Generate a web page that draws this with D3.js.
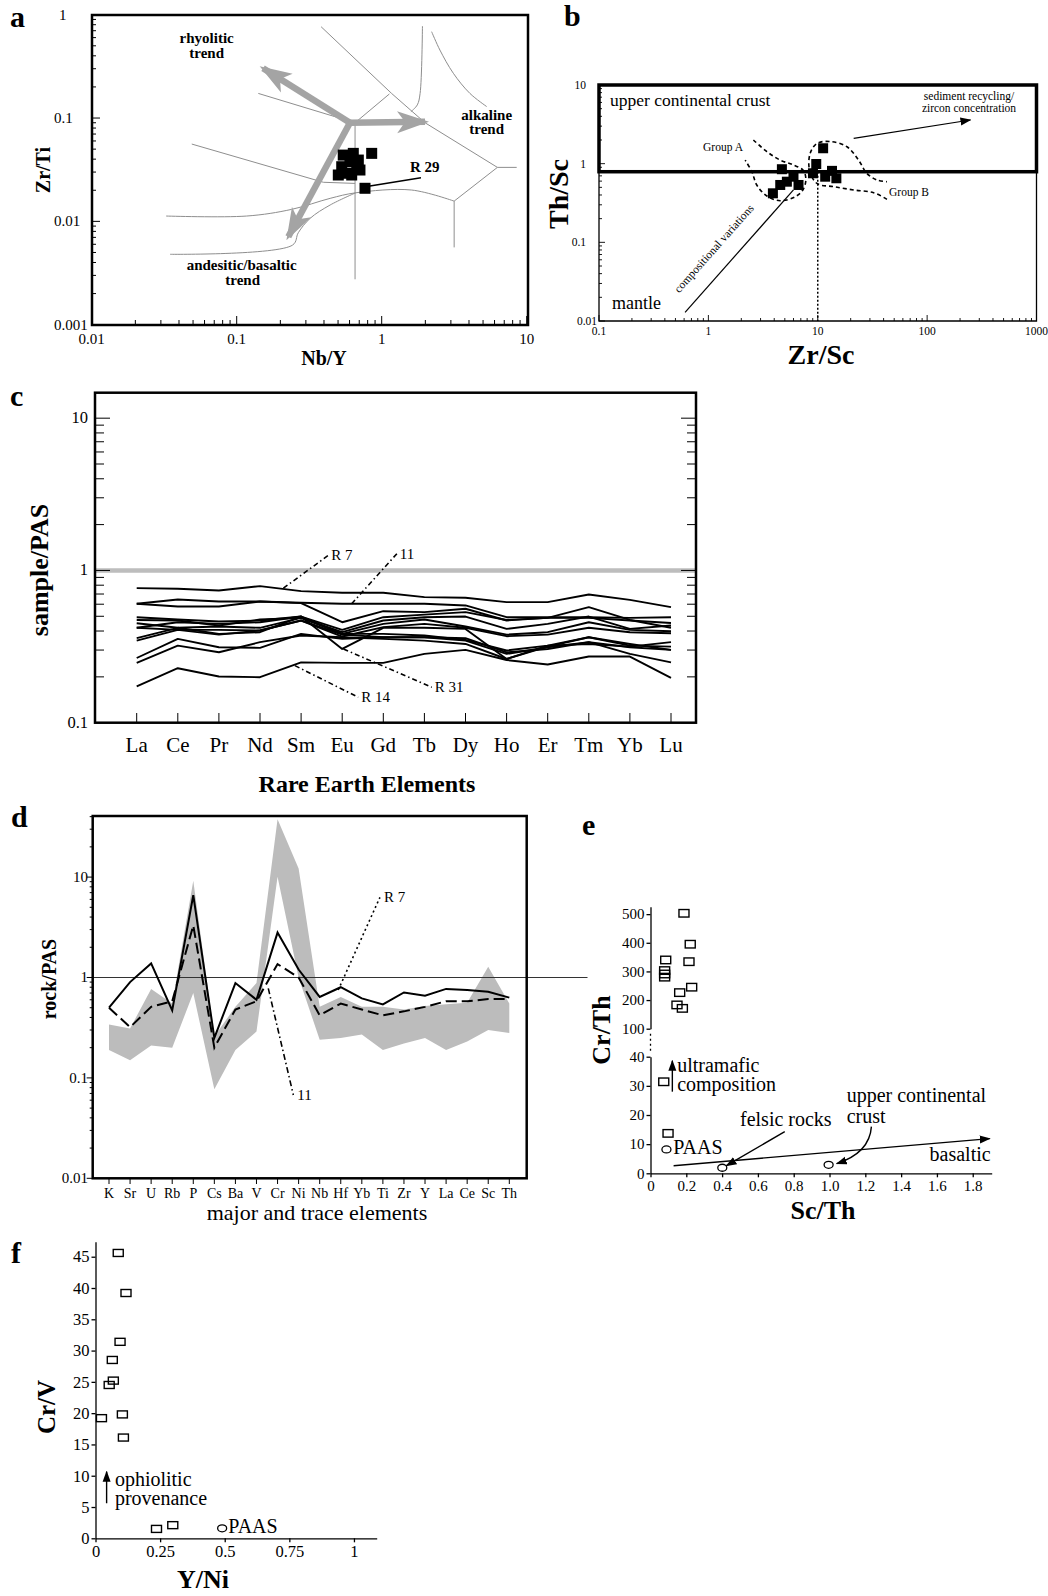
<!DOCTYPE html>
<html>
<head>
<meta charset="utf-8">
<script src="https://cdn.jsdelivr.net/npm/d3@7"></script>
<style>
  body { margin: 0; background: #fff; }
  svg { display: block; font-family: "Liberation Serif", "Times New Roman", serif; }
</style>
</head>
<body>
<svg id="fig" width="1048" height="1596"></svg>
<script>
// ---------- data ----------
// a: Zr/Ti vs Nb/Y
const aNbY  = [0.853, 0.543, 0.637, 0.604, 0.690, 0.530, 0.673, 0.574, 0.502, 0.621, 0.708, 0.767];
const aZrTi = [0.0455, 0.0438, 0.0455, 0.0378, 0.0392, 0.0338, 0.0338, 0.0292, 0.0281, 0.0281, 0.0314, 0.0209];
const aFieldLines = [
  [[0.382, 0.765], [1.17, 0.173], [1.99, 0.090], [6.28, 0.0333], [8.53, 0.0333]],
  [[6.28, 0.0333], [3.16, 0.0157], [3.16, 0.0056]],
  [[0.141, 0.173], [0.655, 0.090], [1.13, 0.171]],
  [[0.655, 0.090], [0.655, 0.00275]],
  [[0.049, 0.056], [0.396, 0.0239], [0.655, 0.0233]],
  [[0.0326, 0.01126], [0.117, 0.01126], [0.239, 0.01306], [0.441, 0.0167], [0.662, 0.0189], [1.61, 0.0201], [3.16, 0.0157]],
  [[0.0347, 0.0048], [0.243, 0.0059], [0.266, 0.00777], [0.321, 0.0107], [0.441, 0.0144], [0.662, 0.0189]],
  [[1.91, 0.777], [1.84, 0.173], [1.76, 0.134], [1.59, 0.115]],
  [[2.21, 0.685], [2.52, 0.455], [3.12, 0.271], [4.06, 0.173], [5.30, 0.129]]
];
const aFieldCurved = [false, false, false, false, false, true, true, true, true];
const aTrendStart = [0.604, 0.090];
const aTrendEnds = [[0.152, 0.303], [1.99, 0.092], [0.227, 0.0071]];
const aR29Leader = [[0.830, 0.022], [1.866, 0.0264]];

// b: Th/Sc vs Zr/Sc
const bZrSc = [11.2, 9.69, 4.70, 13.5, 9.04, 14.8, 11.7, 6.0, 4.54, 6.67, 3.89, 5.22];
const bThSc = [1.57, 0.99, 0.85, 0.81, 0.755, 0.652, 0.683, 0.683, 0.536, 0.536, 0.42, 0.59];
const bUccLimit = 0.79;
const bGroupA = [[2.58, 2.0], [3.43, 1.42], [4.54, 1.11], [6.01, 0.96], [7.41, 0.815], [7.78, 0.62], [7.31, 0.463],
  [6.22, 0.38], [4.54, 0.338], [3.43, 0.388], [2.77, 0.535], [2.50, 0.79], [2.17, 1.11]];
const bGroupB = [[42.9, 0.352], [32.4, 0.428], [21.3, 0.463], [14.0, 0.51], [9.84, 0.56], [8.41, 0.83], [8.53, 1.36],
  [9.84, 1.81], [13.0, 1.91], [18.5, 1.64], [23.6, 1.11], [28.2, 0.75], [34.8, 0.62], [42.9, 0.59]];
const bTrendLine = [[0.612, 0.0129], [6.0, 0.463]];
const bSedimentArrow = [[21.3, 2.1], [249, 3.59]];

// c: REE / PAAS
const reeNames = ["La", "Ce", "Pr", "Nd", "Sm", "Eu", "Gd", "Tb", "Dy", "Ho", "Er", "Tm", "Yb", "Lu"];
const reeR7  = [0.765, 0.758, 0.739, 0.789, 0.731, 0.713, 0.713, 0.668, 0.661, 0.619, 0.619, 0.695, 0.641, 0.574];
const ree11  = [0.604, 0.645, 0.625, 0.625, 0.613, 0.604, 0.604, 0.604, 0.589, 0.493, 0.493, 0.493, 0.488, 0.493];
const reeR31 = [0.420, 0.457, 0.446, 0.457, 0.498, 0.305, 0.420, 0.420, 0.413, 0.262, 0.316, 0.364, 0.329, 0.301];
const reeR14 = [0.173, 0.228, 0.201, 0.199, 0.249, 0.247, 0.247, 0.283, 0.301, 0.258, 0.241, 0.272, 0.272, 0.197];
const reeOthers = [
  [0.604, 0.580, 0.580, 0.625, 0.610, 0.457, 0.540, 0.532, 0.560, 0.469, 0.488, 0.574, 0.473, 0.420],
  [0.493, 0.476, 0.462, 0.469, 0.498, 0.407, 0.493, 0.513, 0.532, 0.473, 0.488, 0.488, 0.469, 0.452],
  [0.473, 0.469, 0.435, 0.476, 0.488, 0.393, 0.469, 0.493, 0.498, 0.413, 0.446, 0.498, 0.413, 0.435],
  [0.450, 0.420, 0.428, 0.420, 0.488, 0.383, 0.446, 0.476, 0.428, 0.379, 0.393, 0.457, 0.407, 0.399],
  [0.420, 0.407, 0.407, 0.403, 0.469, 0.368, 0.424, 0.446, 0.420, 0.370, 0.379, 0.420, 0.393, 0.387],
  [0.359, 0.420, 0.383, 0.393, 0.498, 0.383, 0.383, 0.374, 0.350, 0.298, 0.321, 0.364, 0.321, 0.316],
  [0.346, 0.407, 0.379, 0.403, 0.469, 0.379, 0.364, 0.364, 0.359, 0.290, 0.305, 0.338, 0.283, 0.249],
  [0.266, 0.355, 0.313, 0.310, 0.383, 0.355, 0.364, 0.364, 0.346, 0.283, 0.313, 0.338, 0.313, 0.301],
  [0.247, 0.321, 0.290, 0.338, 0.374, 0.364, 0.355, 0.346, 0.329, 0.262, 0.321, 0.329, 0.316, 0.338]
];
// pointer labels: [index, value] pairs
const cLabels = [
  { text: "R 7",  from: [3.57, 0.765], to: [4.66, 1.255] },
  { text: "11",   from: [5.23, 0.604], to: [6.33, 1.288] },
  { text: "R 31", from: [5.03, 0.305], to: [7.18, 0.171] },
  { text: "R 14", from: [3.85, 0.237], to: [5.39, 0.147] }
];

// d: spider diagram rock/PAAS
const spiderNames = ["K", "Sr", "U", "Rb", "P", "Cs", "Ba", "V", "Cr", "Ni", "Nb", "Hf", "Yb", "Ti", "Zr", "Y", "La", "Ce", "Sc", "Th"];
const spiderR7 = [0.50, 0.90, 1.38, 0.47, 6.6, 0.25, 0.88, 0.60, 2.8, 1.2, 0.64, 0.80, 0.62, 0.54, 0.71, 0.66, 0.77, 0.75, 0.72, 0.63];
const spider11 = [0.50, 0.32, 0.51, 0.58, 3.3, 0.20, 0.48, 0.58, 1.36, 1.0, 0.42, 0.55, 0.48, 0.42, 0.46, 0.51, 0.58, 0.58, 0.61, 0.61];
const bandUpper = [0.34, 0.31, 0.77, 0.55, 9.2, 0.26, 0.51, 0.88, 37.6, 12.2, 0.51, 0.64, 0.51, 0.51, 0.48, 0.52, 0.54, 0.56, 1.28, 0.55];
const bandLower = [0.19, 0.15, 0.21, 0.20, 0.70, 0.077, 0.19, 0.29, 10.1, 1.0, 0.24, 0.25, 0.27, 0.19, 0.22, 0.25, 0.19, 0.23, 0.30, 0.28];
const dLabels = [
  { text: "R 7", from: [10.88, 0.751], to: [12.86, 6.29], dash: "2,3" },
  { text: "11",  from: [7.56, 0.78],  to: [8.75, 0.0676], dash: "6,3,1.5,3" }
];

// e: Cr/Th vs Sc/Th
const eScTh = [0.187, 0.222, 0.085, 0.215, 0.079, 0.079, 0.079, 0.163, 0.230, 0.148, 0.178, 0.074, 0.098];
const eCrTh = [503, 395, 340, 334, 303, 291, 280, 226, 245, 183, 171, 31.4, 13.7];
const eRefs = [[0.089, 8.2], [0.401, 1.9], [0.995, 2.9]];
const eXTicks = [0, 0.2, 0.4, 0.6, 0.8, 1.0, 1.2, 1.4, 1.6, 1.8];
const eYTicksUpper = [100, 200, 300, 400, 500];
const eYTicksLower = [0, 10, 20, 30, 40];

// f: Cr/V vs Y/Ni
const fYNi = [0.088, 0.118, 0.095, 0.065, 0.069, 0.053, 0.023, 0.104, 0.108, 0.236, 0.299];
const fCrV = [45.6, 39.2, 31.4, 28.5, 25.2, 24.5, 19.2, 19.8, 16.1, 1.5, 2.1];
const fPaas = [0.490, 1.6];
const fXTicks = [0, 0.25, 0.5, 0.75, 1];
const fYTicks = [0, 5, 10, 15, 20, 25, 30, 35, 40, 45];

// ---------- helpers ----------
const svg = d3.select("#fig");
const defs = svg.append("defs");

function addMarker(id, vb, refX, w, h, path, fill) {
  defs.append("marker")
    .attr("id", id).attr("viewBox", vb).attr("refX", refX).attr("refY", 0)
    .attr("markerWidth", w).attr("markerHeight", h)
    .attr("markerUnits", "userSpaceOnUse").attr("orient", "auto")
    .append("path").attr("d", path).attr("fill", fill);
}
addMarker("greyHead", "0 -12 32 24", 28, 32, 24, "M0,-11L32,0L0,11L8,0Z", "#a4a4a4");
addMarker("blackHead", "0 -5 11 10", 10, 11, 10, "M0,-4L11,0L0,4Z", "#000");

function isMajor(v) {
  const l = Math.log10(v);
  return Math.abs(l - Math.round(l)) < 1e-9;
}
function logTicks(g, scale, axis, pos, dir, majLen, minLen) {
  scale.ticks().forEach(v => {
    const p = scale(v);
    const l = isMajor(v) ? majLen : minLen;
    if (axis === "x") {
      g.append("line").attr("x1", p).attr("x2", p).attr("y1", pos).attr("y2", pos + dir * l);
    } else {
      g.append("line").attr("x1", pos).attr("x2", pos + dir * l).attr("y1", p).attr("y2", p);
    }
  });
}
function letter(txt, x, y) {
  svg.append("text").attr("x", x).attr("y", y).attr("font-size", 30).attr("font-weight", "bold").text(txt);
}
function vTitle(g, txt, x, y, size) {
  g.append("text").attr("transform", `translate(${x},${y}) rotate(-90)`)
    .attr("text-anchor", "middle").attr("font-size", size).attr("font-weight", "bold").text(txt);
}
function styleAxis(sel, size) {
  sel.attr("font-family", "Liberation Serif, serif").attr("font-size", size);
  sel.selectAll("line, path").attr("stroke", "#000").attr("stroke-width", 1.3);
  sel.selectAll("text").attr("fill", "#000");
}

// ---------- panel a ----------
(function panelA() {
  const g = svg.append("g");
  const x = d3.scaleLog().domain([0.01, 10]).range([91.7, 526.7]);
  const y = d3.scaleLog().domain([0.001, 1]).range([324.7, 14.7]);
  const straight = d3.line().x(d => x(d[0])).y(d => y(d[1]));
  const curved = d3.line().x(d => x(d[0])).y(d => y(d[1])).curve(d3.curveCatmullRom);

  aFieldLines.forEach((pts, i) => {
    g.append("path").attr("d", (aFieldCurved[i] ? curved : straight)(pts))
      .attr("fill", "none").attr("stroke", "#8e8e8e").attr("stroke-width", 1);
  });

  aTrendEnds.forEach(end => {
    g.append("path").attr("d", straight([aTrendStart, end]))
      .attr("fill", "none").attr("stroke", "#a4a4a4").attr("stroke-width", 6.5)
      .attr("marker-end", "url(#greyHead)");
  });

  g.selectAll(".sq").data(aNbY).enter().append("rect")
    .attr("x", d => x(d) - 5.5).attr("y", (d, i) => y(aZrTi[i]) - 5.5)
    .attr("width", 11).attr("height", 11).attr("fill", "#000");

  g.append("path").attr("d", straight(aR29Leader)).attr("stroke", "#000").attr("stroke-width", 1.5);

  const bold = [["rhyolitic", 206.7, 43], ["trend", 206.7, 58], ["alkaline", 486.7, 120], ["trend", 486.7, 134],
    ["andesitic/basaltic", 241.7, 270], ["trend", 242.7, 285], ["R 29", 424.7, 172]];
  bold.forEach(t => g.append("text").attr("x", t[1]).attr("y", t[2]).attr("text-anchor", "middle")
    .attr("font-size", 15).attr("font-weight", "bold").text(t[0]));

  g.append("rect").attr("x", 92).attr("y", 15).attr("width", 436).attr("height", 310)
    .attr("fill", "none").attr("stroke", "#000").attr("stroke-width", 2.5);
  const tk = g.append("g").attr("stroke", "#000").attr("stroke-width", 1);
  logTicks(tk, y, "y", 92, 1, 8, 4);
  logTicks(tk, x, "x", 325, -1, 9, 5);

  [1, 0.1, 0.01, 0.001].forEach(v => g.append("text").attr("x", v === 1 ? 59 : 54).attr("y", y(v) + 5)
    .attr("font-size", 15).text(String(v)));
  [0.01, 0.1, 1, 10].forEach(v => g.append("text").attr("x", x(v)).attr("y", 344)
    .attr("text-anchor", "middle").attr("font-size", 15).text(String(v)));
  g.append("text").attr("x", 324).attr("y", 365).attr("text-anchor", "middle")
    .attr("font-size", 20).attr("font-weight", "bold").text("Nb/Y");
  vTitle(g, "Zr/Ti", 50, 170, 20);
  letter("a", 10, 27);
})();

// ---------- panel b ----------
(function panelB() {
  const g = svg.append("g");
  const x = d3.scaleLog().domain([0.1, 1000]).range([599, 1036.5]);
  const y = d3.scaleLog().domain([0.01, 10]).range([321, 85]);
  const line = d3.line().x(d => x(d[0])).y(d => y(d[1]));
  const smooth = d3.line().x(d => x(d[0])).y(d => y(d[1])).curve(d3.curveCatmullRom);

  // lower thin frame
  g.append("path")
    .attr("d", `M${x(0.1)},${y(bUccLimit)}V${y(0.01)}H${x(1000)}V${y(bUccLimit)}`)
    .attr("fill", "none").attr("stroke", "#000").attr("stroke-width", 1.3);
  const tk = g.append("g").attr("stroke", "#000").attr("stroke-width", 0.9);
  logTicks(tk, y, "y", x(0.1), 1, 6, 3);
  logTicks(tk, x, "x", y(0.01), -1, 6, 3);

  // dotted line at Zr/Sc = 10
  g.append("line").attr("x1", x(10)).attr("x2", x(10)).attr("y1", y(bUccLimit)).attr("y2", y(0.01))
    .attr("stroke", "#000").attr("stroke-width", 1.5).attr("stroke-dasharray", "2,2");

  // envelopes
  [bGroupA, bGroupB].forEach(pts => g.append("path").attr("d", smooth(pts))
    .attr("fill", "none").attr("stroke", "#000").attr("stroke-width", 1.6).attr("stroke-dasharray", "4,3"));

  // compositional trend
  g.append("path").attr("d", line(bTrendLine)).attr("stroke", "#000").attr("stroke-width", 1.2);
  const p0 = [x(bTrendLine[0][0]), y(bTrendLine[0][1])];
  const p1 = [x(bTrendLine[1][0]), y(bTrendLine[1][1])];
  const ang = Math.atan2(p1[1] - p0[1], p1[0] - p0[0]) * 180 / Math.PI;
  g.append("text").attr("transform", `translate(${x(1.195)},${y(0.0776)}) rotate(${ang})`)
    .attr("text-anchor", "middle").attr("font-size", 11.5).text("compositional variations");

  g.append("path").attr("d", line(bSedimentArrow)).attr("stroke", "#000").attr("stroke-width", 1.2)
    .attr("marker-end", "url(#blackHead)");

  g.selectAll(".sq").data(bZrSc).enter().append("rect")
    .attr("x", d => x(d) - 5).attr("y", (d, i) => y(bThSc[i]) - 5)
    .attr("width", 10).attr("height", 10).attr("fill", "#000");

  // upper continental crust box
  g.append("rect").attr("x", x(0.1)).attr("y", y(10)).attr("width", x(1000) - x(0.1))
    .attr("height", y(bUccLimit) - y(10)).attr("fill", "none").attr("stroke", "#000").attr("stroke-width", 3.5);

  g.append("text").attr("x", 610).attr("y", 106).attr("font-size", 17.5).text("upper continental crust");
  g.append("text").attr("x", 612).attr("y", 309).attr("font-size", 18).text("mantle");
  g.append("text").attr("x", 969).attr("y", 100).attr("text-anchor", "middle").attr("font-size", 11.5).text("sediment recycling/");
  g.append("text").attr("x", 969).attr("y", 112).attr("text-anchor", "middle").attr("font-size", 11.5).text("zircon concentration");
  g.append("text").attr("x", 703).attr("y", 151).attr("font-size", 11.5).text("Group A");
  g.append("text").attr("x", 889).attr("y", 196).attr("font-size", 11.5).text("Group B");

  [10, 1, 0.1, 0.01].forEach(v => g.append("text").attr("x", v === 0.01 ? 597 : 586).attr("y", y(v) + 4)
    .attr("text-anchor", "end").attr("font-size", 11.5).text(String(v)));
  [0.1, 1, 10, 100, 1000].forEach(v => g.append("text").attr("x", x(v)).attr("y", 335)
    .attr("text-anchor", "middle").attr("font-size", 11.5).text(String(v)));
  g.append("text").attr("x", 821).attr("y", 364).attr("text-anchor", "middle")
    .attr("font-size", 28).attr("font-weight", "bold").text("Zr/Sc");
  vTitle(g, "Th/Sc", 568, 194, 28);
  letter("b", 564, 26);
})();

// ---------- panel c ----------
(function panelC() {
  const g = svg.append("g");
  const x = d3.scalePoint().domain(reeNames).range([136.7, 671]);
  const xi = d3.scaleLinear().domain([0, reeNames.length - 1]).range([136.7, 671]);
  const y = d3.scaleLog().domain([0.1, 14.7]).range([722.7, 392.7]);
  const line = d3.line().x((d, i) => x(reeNames[i])).y(d => y(d));
  const pl = d3.line().x(d => xi(d[0])).y(d => y(d[1]));

  g.append("line").attr("x1", 95).attr("x2", 696).attr("y1", y(1)).attr("y2", y(1))
    .attr("stroke", "#bdbdbd").attr("stroke-width", 4.5);

  [reeR7, ree11, reeR31, reeR14].concat(reeOthers).forEach(s => g.append("path").attr("d", line(s))
    .attr("fill", "none").attr("stroke", "#000").attr("stroke-width", 1.9).attr("stroke-linejoin", "round"));

  cLabels.forEach(l => {
    g.append("path").attr("d", pl([l.from, l.to])).attr("stroke", "#000").attr("stroke-width", 1.6)
      .attr("stroke-dasharray", "5,3,1.5,3");
    g.append("text").attr("x", xi(l.to[0]) + 3).attr("y", y(l.to[1]) + 5).attr("font-size", 15).text(l.text);
  });

  g.append("rect").attr("x", 95).attr("y", 392.7).attr("width", 601).attr("height", 330)
    .attr("fill", "none").attr("stroke", "#000").attr("stroke-width", 2.5);
  const tk = g.append("g").attr("stroke", "#000").attr("stroke-width", 1);
  logTicks(tk, y, "y", 95, 1, 15, 9);
  logTicks(tk, y, "y", 696, -1, 15, 9);
  reeNames.forEach(n => tk.append("line").attr("x1", x(n)).attr("x2", x(n)).attr("y1", 722.7).attr("y2", 713));

  [10, 1, 0.1].forEach(v => g.append("text").attr("x", 88).attr("y", y(v) + 5)
    .attr("text-anchor", "end").attr("font-size", 16.5).text(String(v)));
  reeNames.forEach(n => g.append("text").attr("x", x(n)).attr("y", 752)
    .attr("text-anchor", "middle").attr("font-size", 21).text(n));
  g.append("text").attr("x", 367).attr("y", 792).attr("text-anchor", "middle")
    .attr("font-size", 24).attr("font-weight", "bold").text("Rare Earth Elements");
  vTitle(g, "sample/PAS", 48, 570, 26);
  letter("c", 10, 406);
})();

// ---------- panel d ----------
(function panelD() {
  const g = svg.append("g");
  const x = d3.scalePoint().domain(spiderNames).range([109, 509.3]);
  const xi = d3.scaleLinear().domain([0, spiderNames.length - 1]).range([109, 509.3]);
  const y = d3.scaleLog().domain([0.01, 40.6]).range([1178.3, 816]);
  const line = d3.line().x((d, i) => x(spiderNames[i])).y(d => y(d));
  const pl = d3.line().x(d => xi(d[0])).y(d => y(d[1]));
  const area = d3.area().x((d, i) => x(spiderNames[i])).y0((d, i) => y(bandLower[i])).y1(d => y(d));

  g.append("path").attr("d", area(bandUpper)).attr("fill", "#bcbcbc");
  g.append("line").attr("x1", 92.7).attr("x2", 587.5).attr("y1", y(1)).attr("y2", y(1))
    .attr("stroke", "#333").attr("stroke-width", 1.2);
  g.append("path").attr("d", line(spider11)).attr("fill", "none").attr("stroke", "#000")
    .attr("stroke-width", 2).attr("stroke-dasharray", "11,5");
  g.append("path").attr("d", line(spiderR7)).attr("fill", "none").attr("stroke", "#000").attr("stroke-width", 2);

  dLabels.forEach(l => {
    g.append("path").attr("d", pl([l.from, l.to])).attr("stroke", "#000").attr("stroke-width", 1.6)
      .attr("stroke-dasharray", l.dash);
    g.append("text").attr("x", xi(l.to[0]) + 4).attr("y", y(l.to[1]) + 5).attr("font-size", 15).text(l.text);
  });

  g.append("rect").attr("x", 92.7).attr("y", 816).attr("width", 434).attr("height", 362.3)
    .attr("fill", "none").attr("stroke", "#000").attr("stroke-width", 2.5);
  const tk = g.append("g").attr("stroke", "#000").attr("stroke-width", 1);
  logTicks(tk, y, "y", 92.7, -1, 6, 3);
  spiderNames.forEach(n => tk.append("line").attr("x1", x(n)).attr("x2", x(n)).attr("y1", 1178.3).attr("y2", 1184));

  [10, 1, 0.1, 0.01].forEach(v => g.append("text").attr("x", 88).attr("y", y(v) + 5)
    .attr("text-anchor", "end").attr("font-size", 15).text(String(v)));
  spiderNames.forEach(n => g.append("text").attr("x", x(n)).attr("y", 1198)
    .attr("text-anchor", "middle").attr("font-size", 14).text(n));
  g.append("text").attr("x", 317).attr("y", 1220).attr("text-anchor", "middle")
    .attr("font-size", 22).text("major and trace elements");
  vTitle(g, "rock/PAS", 56, 979, 20);
  letter("d", 11, 827);
})();

// ---------- panel e ----------
(function panelE() {
  const g = svg.append("g");
  const x = d3.scaleLinear().domain([0, 1.906]).range([650.5, 991.7]);
  const yU = d3.scaleLinear().domain([100, 526]).range([1028.7, 906.7]);
  const yL = d3.scaleLinear().domain([0, 40]).range([1173.3, 1056.7]);
  const y = v => (v >= 100 ? yU(v) : yL(v));
  const pl = d3.line().x(d => x(d[0])).y(d => yL(d[1]));

  const ax1 = g.append("g").attr("transform", `translate(${x(0)},0)`)
    .call(d3.axisLeft(yU).tickValues(eYTicksUpper).tickSize(4).tickSizeOuter(0).tickPadding(2));
  const ax2 = g.append("g").attr("transform", `translate(${x(0)},0)`)
    .call(d3.axisLeft(yL).tickValues(eYTicksLower).tickSize(4).tickSizeOuter(0).tickPadding(2));
  const ax3 = g.append("g").attr("transform", `translate(0,${yL(0)})`)
    .call(d3.axisBottom(x).tickValues(eXTicks).tickSize(4).tickSizeOuter(0).tickPadding(3)
      .tickFormat(d => (d === 0 ? "0" : d.toFixed(1))));
  [ax1, ax2, ax3].forEach(a => styleAxis(a, 15));
  g.append("line").attr("x1", x(0)).attr("x2", x(0)).attr("y1", yU(100) + 5).attr("y2", yL(40) - 3)
    .attr("stroke", "#000").attr("stroke-width", 1.3).attr("stroke-dasharray", "2,3");

  g.selectAll(".sq").data(eScTh).enter().append("rect")
    .attr("x", d => x(d) - 5).attr("y", (d, i) => y(eCrTh[i]) - 3.75)
    .attr("width", 10).attr("height", 7.5).attr("fill", "none").attr("stroke", "#000").attr("stroke-width", 1.4);
  g.selectAll(".ref").data(eRefs).enter().append("ellipse")
    .attr("cx", d => x(d[0])).attr("cy", d => yL(d[1])).attr("rx", 4.5).attr("ry", 3.5)
    .attr("fill", "none").attr("stroke", "#000").attr("stroke-width", 1.3);

  const arrow = (pts, path) => g.append("path").attr("d", path || pl(pts)).attr("fill", "none")
    .attr("stroke", "#000").attr("stroke-width", 1.4).attr("marker-end", "url(#blackHead)");
  arrow([[0.129, 2.6], [1.895, 11.9]]);
  arrow([[0.122, 28], [0.122, 38.6]]);
  arrow([[0.75, 14.3], [0.424, 2.6]]);
  arrow(null, `M${x(1.234)},${yL(16)}Q${x(1.224)},${yL(7)} ${x(1.04)},${yL(3.3)}`);

  const notes = [["ultramafic", 0.149, 34.6, "start"], ["composition", 0.149, 28.1, "start"],
    ["felsic rocks", 0.5, 16.2, "start"], ["upper continental", 1.096, 24.6, "start"],
    ["crust", 1.096, 17.3, "start"], ["basaltic", 1.90, 4.2, "end"], ["PAAS", 0.127, 6.6, "start"]];
  notes.forEach(n => g.append("text").attr("x", x(n[1])).attr("y", yL(n[2])).attr("text-anchor", n[3])
    .attr("font-size", 20).text(n[0]));

  g.append("text").attr("x", 823).attr("y", 1219).attr("text-anchor", "middle")
    .attr("font-size", 26).attr("font-weight", "bold").text("Sc/Th");
  vTitle(g, "Cr/Th", 610, 1030, 26);
  letter("e", 582, 835);
})();

// ---------- panel f ----------
(function panelF() {
  const g = svg.append("g");
  const x = d3.scaleLinear().domain([0, 1.088]).range([95.5, 376.7]);
  const y = d3.scaleLinear().domain([0, 47.4]).range([1538.3, 1241.7]);

  const ay = g.append("g").attr("transform", `translate(${x(0)},0)`)
    .call(d3.axisLeft(y).tickValues(fYTicks).tickSize(4).tickSizeOuter(0).tickPadding(2));
  const ax = g.append("g").attr("transform", `translate(0,${y(0)})`)
    .call(d3.axisBottom(x).tickValues(fXTicks).tickSize(4).tickSizeOuter(0).tickPadding(3).tickFormat(d => String(d)));
  [ay, ax].forEach(a => styleAxis(a, 16.5));

  g.selectAll(".sq").data(fYNi).enter().append("rect")
    .attr("x", d => x(d) - 5).attr("y", (d, i) => y(fCrV[i]) - 3.5)
    .attr("width", 10).attr("height", 7).attr("fill", "none").attr("stroke", "#000").attr("stroke-width", 1.4);
  g.append("ellipse").attr("cx", x(fPaas[0])).attr("cy", y(fPaas[1])).attr("rx", 4.5).attr("ry", 3.5)
    .attr("fill", "none").attr("stroke", "#000").attr("stroke-width", 1.3);

  g.append("line").attr("x1", x(0.043)).attr("x2", x(0.043)).attr("y1", y(5.6)).attr("y2", y(10.65))
    .attr("stroke", "#000").attr("stroke-width", 1.4).attr("marker-end", "url(#blackHead)");
  [["ophiolitic", 0.075, 8.36], ["provenance", 0.075, 5.32], ["PAAS", 0.514, 0.89]].forEach(n =>
    g.append("text").attr("x", x(n[1])).attr("y", y(n[2])).attr("font-size", 20).text(n[0]));

  g.append("text").attr("x", 203).attr("y", 1588).attr("text-anchor", "middle")
    .attr("font-size", 26).attr("font-weight", "bold").text("Y/Ni");
  vTitle(g, "Cr/V", 55, 1407, 25);
  letter("f", 11, 1263);
})();
</script>
</body>
</html>
